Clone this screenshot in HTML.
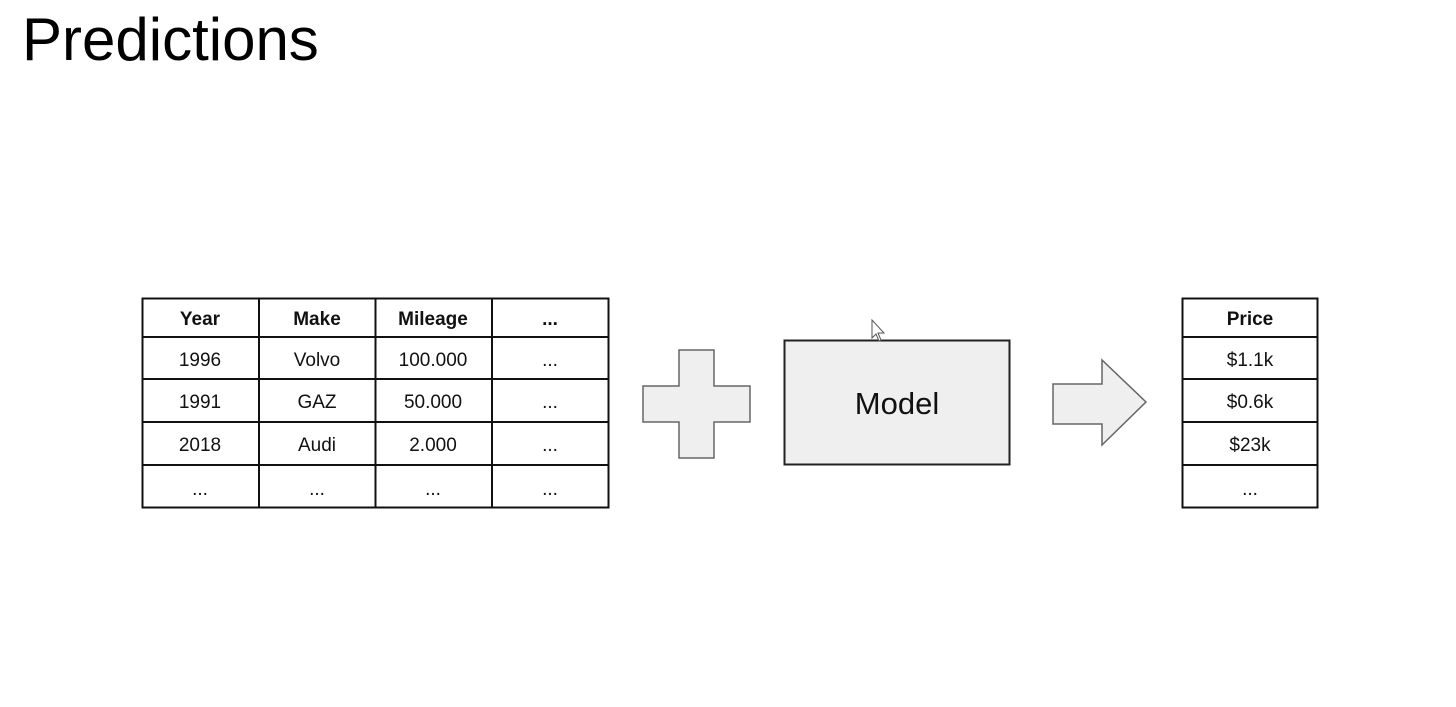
<!DOCTYPE html>
<html><head><meta charset="utf-8"><style>
html,body{margin:0;padding:0;background:#fff;}
svg{display:block;font-family:"Liberation Sans",Arial,sans-serif;}
</style></head><body>
<svg width="1456" height="707" viewBox="0 0 1456 707" xmlns="http://www.w3.org/2000/svg">
<rect width="1456" height="707" fill="#fff"/>
<text x="22" y="60" font-size="60" fill="#000">Predictions</text>
<g stroke="#111" stroke-width="2" fill="none">
<rect x="142.5" y="298.5" width="466" height="209"/>
<line x1="142" y1="337" x2="609" y2="337"/>
<line x1="142" y1="379" x2="609" y2="379"/>
<line x1="142" y1="422" x2="609" y2="422"/>
<line x1="142" y1="465" x2="609" y2="465"/>
<line x1="259" y1="298" x2="259" y2="508"/>
<line x1="375.5" y1="298" x2="375.5" y2="508"/>
<line x1="492" y1="298" x2="492" y2="508"/>
<rect x="1182.5" y="298.5" width="135" height="209"/>
<line x1="1182" y1="337" x2="1318" y2="337"/>
<line x1="1182" y1="379" x2="1318" y2="379"/>
<line x1="1182" y1="422" x2="1318" y2="422"/>
<line x1="1182" y1="465" x2="1318" y2="465"/>
</g>
<g font-size="19" text-anchor="middle" fill="#111">
<g font-weight="bold">
<text x="200" y="325">Year</text><text x="317" y="325">Make</text><text x="433" y="325">Mileage</text><text x="550" y="325">...</text>
<text x="1250" y="325">Price</text>
</g>
<text x="200" y="366">1996</text><text x="317" y="366">Volvo</text><text x="433" y="366">100.000</text><text x="550" y="366">...</text>
<text x="200" y="408">1991</text><text x="317" y="408">GAZ</text><text x="433" y="408">50.000</text><text x="550" y="408">...</text>
<text x="200" y="451">2018</text><text x="317" y="451">Audi</text><text x="433" y="451">2.000</text><text x="550" y="451">...</text>
<text x="200" y="495">...</text><text x="317" y="495">...</text><text x="433" y="495">...</text><text x="550" y="495">...</text>
<text x="1250" y="366">$1.1k</text><text x="1250" y="408">$0.6k</text><text x="1250" y="451">$23k</text><text x="1250" y="495">...</text>
</g>
<polygon points="679,350 714,350 714,386 750,386 750,422 714,422 714,458 679,458 679,422 643,422 643,386 679,386" fill="#efefef" stroke="#666" stroke-width="1.5"/>
<rect x="784.5" y="340.5" width="225" height="124" fill="#efefef" stroke="#222" stroke-width="2"/>
<text x="897" y="414" font-size="31" text-anchor="middle" fill="#111">Model</text>
<polygon points="1053,384 1102,384 1102,360 1146,402 1102,445 1102,424 1053,424" fill="#efefef" stroke="#666" stroke-width="1.5"/>
<path d="M872,320 L872,338 L876,334 L879,341 L881,340 L878,333 L884,333 Z" fill="#fff" stroke="#555" stroke-width="1"/>
</svg>
</body></html>
